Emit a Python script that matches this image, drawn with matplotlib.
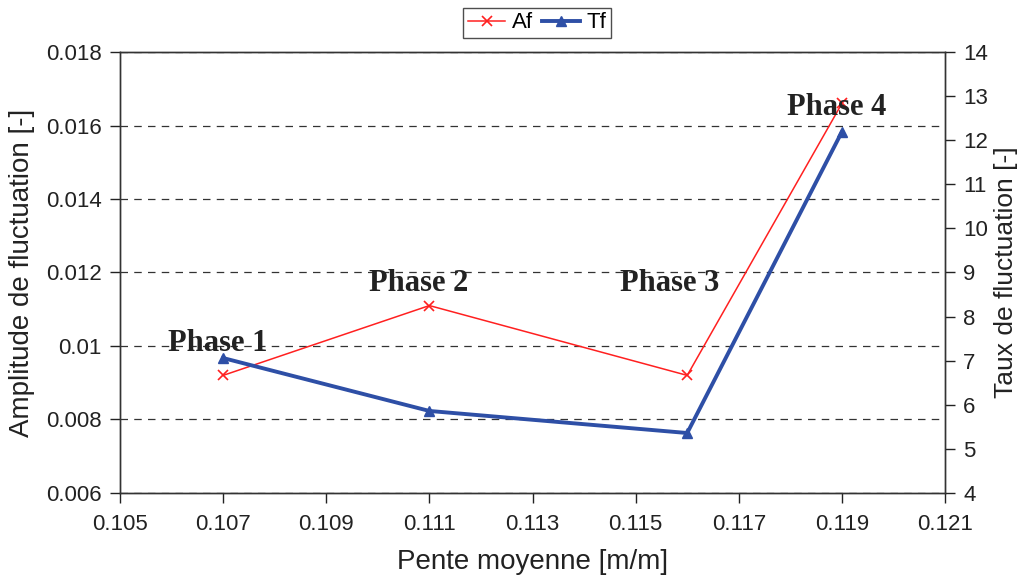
import matplotlib
matplotlib.use("Agg")
import matplotlib.pyplot as plt

pente = [0.107, 0.111, 0.116, 0.119]
af = [0.0092, 0.0111, 0.0092, 0.0166]
tf = [7.06, 5.86, 5.36, 12.19]
phases = ["Phase 1", "Phase 2", "Phase 3", "Phase 4"]
phase_x = [0.1069, 0.1108, 0.11565, 0.1189]
phase_y = [0.01008, 0.01171, 0.01171, 0.0165]

plt.rcParams['font.family'] = ['Liberation Sans', 'DejaVu Sans']

fig = plt.figure(figsize=(10.23, 5.83), dpi=100)
ax = fig.add_axes([0.1173, 0.1544, 0.8065, 0.7564])
ax2 = ax.twinx()

l1, = ax.plot(pente, af, color='#ff2020', lw=1.1, marker='x', ms=7, mew=1.2)
l2, = ax2.plot(pente, tf, color='#2e4fa6', lw=2.8, marker='^', ms=7)

ax.set_xlim(0.105, 0.121)
ax.set_ylim(0.006, 0.018)
ax2.set_ylim(4, 14)
ax.set_xticks([0.105, 0.107, 0.109, 0.111, 0.113, 0.115, 0.117, 0.119, 0.121])
ax.set_xticklabels(["0.105", "0.107", "0.109", "0.111", "0.113", "0.115", "0.117", "0.119", "0.121"])
ax.set_yticks([0.006, 0.008, 0.01, 0.012, 0.014, 0.016, 0.018])
ax.set_yticklabels(["0.006", "0.008", "0.01", "0.012", "0.014", "0.016", "0.018"])
ax2.set_yticks(range(4, 15))

ax.yaxis.grid(True, linestyle=(0, (6, 5)), color='#333333', lw=0.9)
ax.set_axisbelow(True)
for a in (ax, ax2):
    a.tick_params(direction='out', length=7, width=1, labelsize=16, colors='#222222', pad=6)
    for s in a.spines.values():
        s.set_color('#333333')
        s.set_linewidth(1)
ax.tick_params(axis='x', pad=8)

ax.set_xlabel("Pente moyenne [m/m]", fontsize=20, color='#222222', labelpad=10)
ax.set_ylabel("Amplitude de fluctuation [-]", fontsize=20, color='#222222', labelpad=8)
ax2.set_ylabel("Taux de fluctuation [-]", fontsize=19, color='#222222', labelpad=4)

for name, x, y in zip(phases, phase_x, phase_y):
    ax.text(x, y, name, ha='center', va='center', fontsize=22, fontweight='bold',
            family='Liberation Serif', color='#222222', zorder=5)

leg = fig.legend([l1, l2], ["Af", "Tf"], loc='upper center', bbox_to_anchor=(0.525, 0.99),
                 ncol=2, fontsize=16, frameon=True, fancybox=False, handlelength=1.7,
                 columnspacing=0.4, handletextpad=0.3, borderpad=0.2, borderaxespad=0.1)
leg.get_frame().set_edgecolor('#222222')
leg.get_frame().set_linewidth(1)

fig.savefig("out.png", dpi=100)
